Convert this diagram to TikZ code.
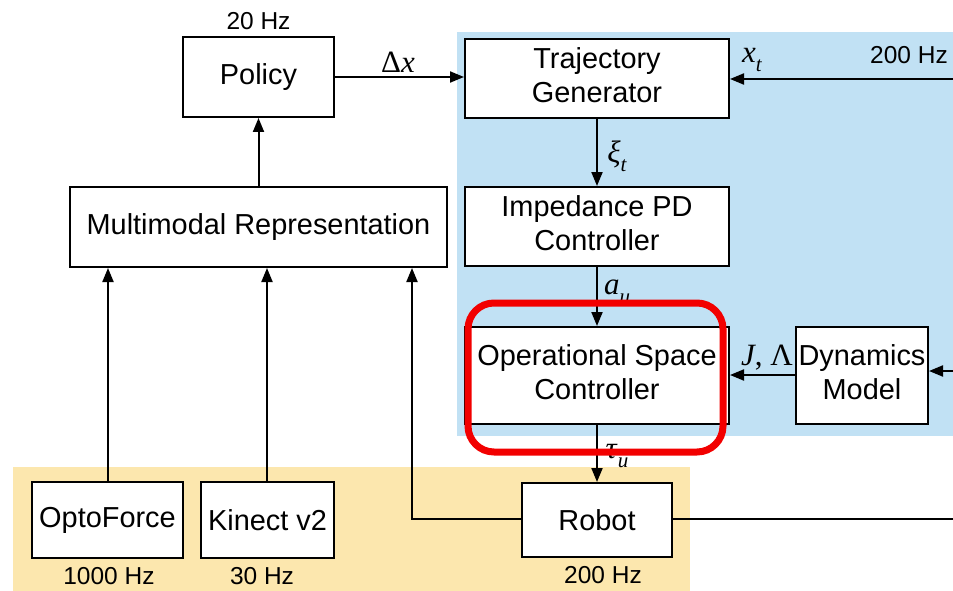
\documentclass[tikz,border=0pt]{standalone}
\usepackage{fontspec}
\setmainfont{Liberation Sans}
\newfontfamily\symfont{Liberation Serif}
\usetikzlibrary{arrows.meta}
\definecolor{ctrlblue}{HTML}{C1E1F4}
\definecolor{senseyellow}{HTML}{FCE7AE}
\definecolor{hlred}{HTML}{F20000}
% signal symbols set in a serif, with lowered subscripts
\newcommand{\var}[1]{\textit{#1}}
\newcommand{\lowsub}[1]{\raisebox{-0.28em}{\fontsize{21}{23}\selectfont\itshape #1}}
\tikzset{
  blk/.style={draw, line width=2pt, fill=white, inner sep=0pt, align=center,
    font=\fontsize{28.9}{34}\selectfont},
  twoline/.style={text depth=6pt},
  rate/.style={inner sep=0pt, font=\fontsize{24.5}{28}\selectfont},
  sig/.style={inner sep=0pt, font=\symfont\fontsize{31}{33}\selectfont},
  wire/.style={line width=2pt},
  flow/.style={line width=2pt, -{Triangle[length=14pt,width=11pt]}},
  highlight/.style={draw=hlred, line width=7pt, rounded corners=26pt}
}
\begin{document}
\begin{tikzpicture}[x=1pt,y=-1pt]
  \useasboundingbox (0,0) rectangle (953,591);
  % shaded regions: low-level controller and hardware
  \fill[ctrlblue] (457,32) rectangle (953,436);
  \fill[senseyellow] (13,467) rectangle (690,591);

  % blocks
  \node[blk, minimum width=151pt, minimum height=80pt] (policy) at (258.5,77) {Policy};
  \node[blk, minimum width=377pt, minimum height=80pt] (multi) at (258.5,227) {Multimodal Representation};
  \node[blk, twoline, minimum width=264pt, minimum height=79pt] (traj) at (597,78.5) {Trajectory\\Generator};
  \node[blk, twoline, minimum width=264pt, minimum height=79pt] (imp) at (597,226.5) {Impedance PD\\Controller};
  \node[blk, twoline, minimum width=264pt, minimum height=97pt] (osc) at (597,375.5) {Operational Space\\Controller};
  \node[blk, twoline, minimum width=132pt, minimum height=97pt] (dyn) at (862,375.5) {Dynamics\\Model};
  \node[blk, minimum width=151pt, minimum height=76pt] (opto) at (107.5,520) {OptoForce};
  \node[blk, minimum width=133pt, minimum height=76pt] (kinect) at (267.5,520) {Kinect v2};
  \node[blk, minimum width=150pt, minimum height=74pt] (robot) at (597,520) {Robot};

  % rates
  \node[rate] (rpolicy) at (258.5,21) {20 Hz};
  \node[rate] (ropto) at (109,576) {1000 Hz};
  \node[rate] (rkinect) at (262,576) {30 Hz};
  \node[rate] (rrobot) at (603,575) {200 Hz};
  \node[rate, anchor=east] (rstate) at (948,55) {200 Hz};

  % signal labels
  \node[sig] (ldx) at (398,62) {Δ\var{x}};
  \node[sig] (lxt) at (752,60) {\var{x}\lowsub{t}};
  \node[sig] (lxi) at (617,156) {\var{ξ}\lowsub{t}};
  \node[sig] (lau) at (617,292) {\var{a}\lowsub{u}};
  \node[sig] (ltau) at (617,456) {\var{τ}\lowsub{u}};
  \node[sig] (ljl) at (767,358) {\var{J}, Λ};

  % edge coordinates
  \coordinate (edgeT) at (953,79);
  \coordinate (edgeD) at (953,371);
  \coordinate (edgeR) at (953,519);
  \coordinate (turn) at (412,519);

  % connectors
  \draw[flow] (policy.east |- 0,77) -- (traj.west |- 0,77);
  \draw[flow] (multi.north) -- (policy.south);
  \draw[flow] (traj.south) -- (imp.north);
  \draw[flow] (imp.south) -- (osc.north);
  \draw[flow] (osc.south) -- (robot.north);
  \draw[flow] (dyn.west |- 0,375) -- (osc.east |- 0,375);
  \draw[flow] (opto.north -| 108,0) -- (multi.south -| 108,0);
  \draw[flow] (kinect.north -| 267,0) -- (multi.south -| 267,0);
  \draw[flow] (robot.west |- turn) -- (turn) -- (multi.south -| turn);
  \draw[wire] (robot.east |- edgeR) -- (edgeR);
  \draw[flow] (edgeT) -- (traj.east |- edgeT);
  \draw[flow] (edgeD) -- (dyn.east |- edgeD);

  % emphasis around the operational space controller
  \draw[highlight] (468,303) rectangle (723,452);
\end{tikzpicture}
\end{document}
